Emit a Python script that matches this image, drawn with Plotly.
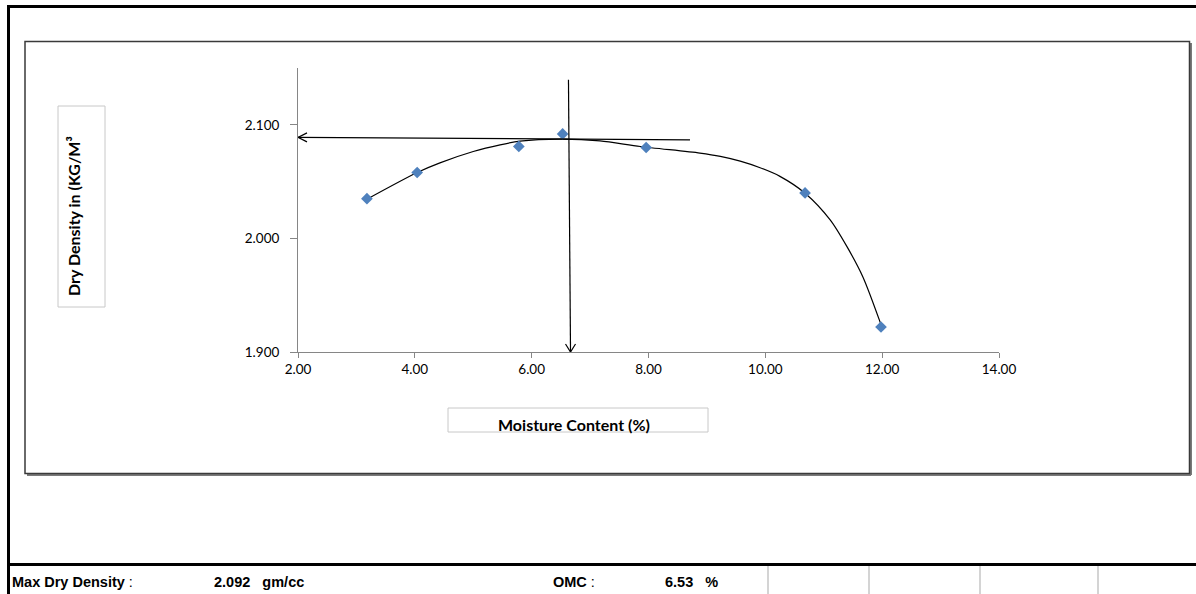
import plotly.graph_objects as go

# ---- data ----
moisture = [3.18, 4.04, 5.78, 6.53, 7.96, 10.68, 11.98]
dry_density = [2.035, 2.058, 2.081, 2.092, 2.080, 2.040, 1.922]

# smooth fitted curve
curve_x = [3.18, 4.04, 4.43, 5.00, 5.46, 5.80, 6.49, 7.17, 7.86, 8.88, 9.23, 9.57, 9.91, 10.25, 10.68, 11.11, 11.40, 11.67, 11.97]
curve_y = [2.0345, 2.058, 2.0665, 2.0765, 2.0824, 2.0856, 2.0874, 2.0859, 2.0809, 2.0751, 2.0722, 2.0680, 2.0622, 2.0546, 2.0398, 2.0163, 1.9925, 1.9661, 1.9256]

x_ticks = [2, 4, 6, 8, 10, 12, 14]
y_ticks = [1.9, 2.0, 2.1]

max_dry_density = "2.092"
omc = "6.53"

# construction arrows (horizontal to y-axis, vertical to x-axis)
h_arrow = dict(x0=8.71, y0=2.0868, x1=2.0, y1=2.0889)
v_arrow = dict(x0=6.63, y0=2.1396, x1=6.665, y1=1.900)

# ---- layout geometry (pixels) ----
W, H = 1196, 594
L, R, T, B = 298, 999, 68, 352
PW, PH = R - L, B - T


def px(x):
    return (x - L) / PW


def py(y):
    return (B - y) / PH


fig = go.Figure()

fig.add_trace(go.Scatter(
    x=curve_x, y=curve_y, mode="lines",
    line=dict(color="black", width=1.2, shape="spline", smoothing=0.8),
    hoverinfo="skip", showlegend=False))

fig.add_trace(go.Scatter(
    x=moisture, y=dry_density, mode="markers",
    marker=dict(symbol="diamond", size=9, color="#4F81BD",
                line=dict(width=0)),
    showlegend=False))

shapes = []
# arrows
shapes.append(dict(type="line", xref="x", yref="y", **h_arrow,
                   line=dict(color="black", width=1.2)))
shapes.append(dict(type="line", xref="x", yref="y", **v_arrow,
                   line=dict(color="black", width=1.2)))
ax_dx = 9 / (PW / 12)
ax_dy = 4.5 / (PH / 0.25)
shapes.append(dict(type="path", xref="x", yref="y",
                   path=f"M {h_arrow['x1']+ax_dx},{h_arrow['y1']+ax_dy} L {h_arrow['x1']},{h_arrow['y1']} L {h_arrow['x1']+ax_dx},{h_arrow['y1']-ax_dy}",
                   line=dict(color="black", width=1.2)))
vx_dx = 5 / (PW / 12)
vy_dy = 8 / (PH / 0.25)
shapes.append(dict(type="path", xref="x", yref="y",
                   path=f"M {v_arrow['x1']-vx_dx},{v_arrow['y1']+vy_dy} L {v_arrow['x1']},{v_arrow['y1']} L {v_arrow['x1']+vx_dx},{v_arrow['y1']+vy_dy}",
                   line=dict(color="black", width=1.2)))

# inner chart frame with shadow
shapes.append(dict(type="line", xref="paper", yref="paper",
                   x0=px(1191), y0=py(43), x1=px(1191), y1=py(475),
                   line=dict(color="#7a7a7a", width=2)))
shapes.append(dict(type="line", xref="paper", yref="paper",
                   x0=px(27), y0=py(475), x1=px(1191), y1=py(475),
                   line=dict(color="#7a7a7a", width=2)))
shapes.append(dict(type="rect", xref="paper", yref="paper",
                   x0=px(25), y0=py(41.5), x1=px(1189.5), y1=py(473.5),
                   line=dict(color="#3a3a3a", width=1.5)))

# axis title boxes
shapes.append(dict(type="rect", xref="paper", yref="paper",
                   x0=px(58), y0=py(106), x1=px(105), y1=py(307),
                   line=dict(color="#c8c8c8", width=1)))
shapes.append(dict(type="rect", xref="paper", yref="paper",
                   x0=px(448), y0=py(408), x1=px(708), y1=py(432),
                   line=dict(color="#c8c8c8", width=1)))

# outer sheet border
shapes.append(dict(type="line", xref="paper", yref="paper",
                   x0=px(8.5), y0=py(6.5), x1=px(8.5), y1=py(600),
                   line=dict(color="black", width=3)))
shapes.append(dict(type="line", xref="paper", yref="paper",
                   x0=px(7), y0=py(6.5), x1=px(1200), y1=py(6.5),
                   line=dict(color="black", width=3)))
shapes.append(dict(type="line", xref="paper", yref="paper",
                   x0=px(7), y0=py(564.5), x1=px(1200), y1=py(564.5),
                   line=dict(color="black", width=3)))
for sx in [768, 869, 980, 1098]:
    shapes.append(dict(type="line", xref="paper", yref="paper",
                       x0=px(sx), y0=py(566), x1=px(sx), y1=py(600),
                       line=dict(color="#d4d4d4", width=2)))

annotations = []
annotations.append(dict(xref="paper", yref="paper", x=px(73), y=py(216),
                        text="<b>Dry Density in (KG/M³</b>", textangle=-90,
                        showarrow=False, xanchor="center", yanchor="middle",
                        font=dict(family="Lato", size=16, color="black")))
annotations.append(dict(xref="paper", yref="paper", x=px(574), y=py(424),
                        text="<b>Moisture Content (%)</b>",
                        showarrow=False, xanchor="center", yanchor="middle",
                        font=dict(family="Lato", size=16, color="black")))

bf = dict(family="Liberation Sans, Arial", size=14.5, color="black")
for xx, txt in [(10, "<b>Max Dry Density</b> :"),
                (212, f"<b>{max_dry_density}\u00a0\u00a0 gm/cc</b>"),
                (551, "<b>OMC</b> :"),
                (663, f"<b>{omc}\u00a0\u00a0 %</b>")]:
    annotations.append(dict(xref="paper", yref="paper", x=px(xx), y=py(582),
                            text=txt, showarrow=False, xanchor="left",
                            yanchor="middle", font=bf))

fig.update_layout(
    width=W, height=H,
    margin=dict(l=L, r=W - R, t=T, b=H - B),
    paper_bgcolor="white", plot_bgcolor="white",
    shapes=shapes, annotations=annotations,
    showlegend=False,
    xaxis=dict(range=[2, 14], tickvals=x_ticks, tickformat=".2f",
               showgrid=False, zeroline=False, showline=True,
               linecolor="#868686", linewidth=1,
               ticks="outside", ticklen=5, tickcolor="#868686",
               tickfont=dict(family="Lato", size=13.5, color="black")),
    yaxis=dict(range=[1.9, 2.15], tickvals=y_ticks, tickformat=".3f",
               showgrid=False, zeroline=False, showline=True,
               linecolor="#868686", linewidth=1,
               ticks="outside", ticklen=7, tickcolor="#868686",
               ticklabelstandoff=8,
               tickfont=dict(family="Lato", size=13.5, color="black")),
)

fig.write_html("out.html", config={"displayModeBar": False},
               post_script="document.body.style.margin='0px';document.body.style.overflow='hidden';")
